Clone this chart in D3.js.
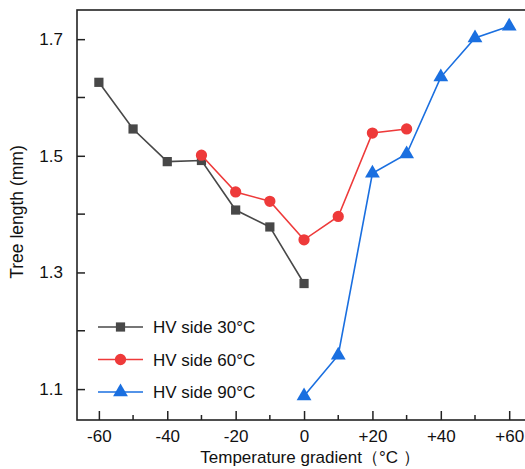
<!DOCTYPE html>
<meta charset="utf-8">
<head>
<style>
  body { margin: 0; background: #fff; }
  text { font-family: "Liberation Sans", Arial, sans-serif; fill: #111; }
  .axis path, .axis line { stroke: #222; }
</style>
</head>
<body>
<script src="https://d3js.org/d3.v7.min.js"></script>
<script>

// data
var xs30 = [-60, -50, -40, -30, -20, -10, 0];
var ys30 = [1.626, 1.546, 1.490, 1.492, 1.407, 1.378, 1.281];
var xs60 = [-30, -20, -10, 0, 10, 20, 30];
var ys60 = [1.501, 1.438, 1.422, 1.356, 1.396, 1.539, 1.546];
var xs90 = [0, 10, 20, 30, 40, 50, 60];
var ys90 = [1.088, 1.158, 1.470, 1.503, 1.635, 1.702, 1.722];
var seriesNames = ["HV side 30°C", "HV side 60°C", "HV side 90°C"];
var xTicks = [-60, -40, -20, 0, 20, 40, 60];
var xTickLabels = ["-60", "-40", "-20", "0", "+20", "+40", "+60"];
var xMinor = [-50, -30, -10, 10, 30, 50];
var yTicks = [1.1, 1.3, 1.5, 1.7];
var yMinor = [1.2, 1.4, 1.6];

var colors = ["#484848", "#ee3a3a", "#1a6fe0"];
var symbols = [d3.symbolSquare, d3.symbolCircle, d3.symbolTriangle];
var symSizes = [85, 100, 95];

var W = 525, H = 469;
var pLeft = 77, pTop = 10, pRight = 528, pBottom = 420;

var svg = d3.select("body").append("svg")
    .attr("width", W)
    .attr("height", H);

var x = d3.scaleLinear().domain([-66.4, 65.5]).range([pLeft, pRight]);
var y = d3.scaleLinear().domain([1.047, 1.75]).range([pBottom, pTop]);

// frame
svg.append("rect")
    .attr("x", pLeft).attr("y", pTop)
    .attr("width", pRight - pLeft).attr("height", pBottom - pTop)
    .attr("fill", "none")
    .attr("stroke", "#222")
    .attr("stroke-width", 1.6);

// x axis (ticks inward)
var gx = svg.append("g")
    .attr("class", "axis")
    .attr("transform", "translate(0," + pBottom + ")");
gx.call(d3.axisBottom(x).tickValues(xTicks).tickSize(-9).tickPadding(10)
    .tickFormat(function(d, i) { return xTickLabels[i]; }));
gx.select(".domain").remove();
gx.selectAll(".tick line").attr("stroke-width", 1.5);
gx.selectAll(".tick text").attr("font-size", 17).attr("fill", "#111");
gx.selectAll(".minor").data(xMinor).enter().append("line")
    .attr("x1", function(d) { return x(d); })
    .attr("x2", function(d) { return x(d); })
    .attr("y1", 0).attr("y2", -5)
    .attr("stroke", "#222").attr("stroke-width", 1.5);

// y axis
var gy = svg.append("g")
    .attr("class", "axis")
    .attr("transform", "translate(" + pLeft + ",0)");
gy.call(d3.axisLeft(y).tickValues(yTicks).tickSize(-8).tickPadding(14)
    .tickFormat(d3.format(".1f")));
gy.select(".domain").remove();
gy.selectAll(".tick line").attr("stroke-width", 1.5);
gy.selectAll(".tick text").attr("font-size", 17).attr("fill", "#111");
gy.selectAll(".minor").data(yMinor).enter().append("line")
    .attr("y1", function(d) { return y(d); })
    .attr("y2", function(d) { return y(d); })
    .attr("x1", 0).attr("x2", 8)
    .attr("stroke", "#222").attr("stroke-width", 1.5);

// axis titles
svg.append("text")
    .attr("x", 310)
    .attr("y", 463)
    .attr("text-anchor", "middle")
    .attr("font-size", 17)
    .text("Temperature gradient（°C ）");

svg.append("text")
    .attr("transform", "translate(23,212) rotate(-90)")
    .attr("text-anchor", "middle")
    .attr("font-size", 17.5)
    .text("Tree length (mm)");

// series
var allSeries = [
  xs30.map(function(d, i) { return [d, ys30[i]]; }),
  xs60.map(function(d, i) { return [d, ys60[i]]; }),
  xs90.map(function(d, i) { return [d, ys90[i]]; })
];

var line = d3.line()
    .x(function(d) { return x(d[0]); })
    .y(function(d) { return y(d[1]); });

allSeries.forEach(function(s, k) {
  svg.append("path")
      .datum(s)
      .attr("fill", "none")
      .attr("stroke", colors[k])
      .attr("stroke-width", 1.6)
      .attr("d", line);
  svg.selectAll(".pt" + k).data(s).enter().append("path")
      .attr("class", "pt" + k)
      .attr("transform", function(d) { return "translate(" + x(d[0]) + "," + y(d[1]) + ")"; })
      .attr("d", d3.symbol().type(symbols[k]).size(symSizes[k]))
      .attr("fill", colors[k]);
});

// legend
var legend = svg.append("g");
seriesNames.forEach(function(name, k) {
  var ly = 327 + k * 32.5;
  legend.append("line")
      .attr("x1", 98).attr("x2", 143)
      .attr("y1", ly).attr("y2", ly)
      .attr("stroke", colors[k]).attr("stroke-width", 1.6);
  legend.append("path")
      .attr("transform", "translate(120.5," + ly + ")")
      .attr("d", d3.symbol().type(symbols[k]).size(symSizes[k]))
      .attr("fill", colors[k]);
  legend.append("text")
      .attr("x", 153).attr("y", ly + 6)
      .attr("font-size", 17)
      .text(name);
});

</script>
</body>
